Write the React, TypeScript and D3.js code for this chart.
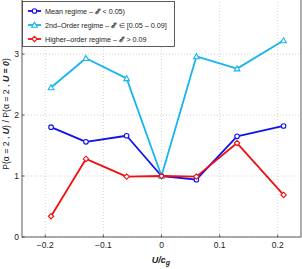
import React from "react";
import * as d3 from "d3";

const width = 302;
const height = 269;
const margin = { top: -7, right: 1, bottom: 32, left: 22 };

const speeds = [-0.19, -0.13, -0.06, 0, 0.06, 0.13, 0.21];
const meanRegime = [1.8, 1.56, 1.66, 1.0, 0.94, 1.65, 1.82];
const secondOrder = [2.45, 2.93, 2.6, 1.0, 2.96, 2.76, 3.22];
const higherOrder = [0.34, 1.28, 0.99, 1.0, 0.99, 1.54, 0.69];

const xTicks = [-0.2, -0.1, 0, 0.1, 0.2];
const yTicks = [0, 1, 2, 3];

const seriesList = [
  { name: "Mean regime – ", rest: "< 0.05)", values: meanRegime, color: "#1010f0", marker: "circle" },
  { name: "2nd–Order regime – ", rest: "∈ [0.05 – 0.09]", values: secondOrder, color: "#18b4f0", marker: "triangle" },
  { name: "Higher–order regime – ", rest: "> 0.09", values: higherOrder, color: "#f01010", marker: "diamond" },
];

const font = "Liberation Sans, Arial, sans-serif";

function Marker({ type, x, y, color }: { type: string; x: number; y: number; color: string }) {
  if (type === "circle") {
    return <circle cx={x} cy={y} r={2.3} fill="white" stroke={color} strokeWidth={1.1} />;
  }
  if (type === "triangle") {
    const s = 2.8;
    return (
      <path
        d={`M${x},${y - s} L${x + s},${y + s * 0.8} L${x - s},${y + s * 0.8} Z`}
        fill="white"
        stroke={color}
        strokeWidth={1.1}
      />
    );
  }
  const s = 2.7;
  return (
    <path
      d={`M${x},${y - s} L${x + s},${y} L${x},${y + s} L${x - s},${y} Z`}
      fill="white"
      stroke={color}
      strokeWidth={1.1}
    />
  );
}

export default function App() {
  const x = d3.scaleLinear().domain([-0.24, 0.24]).range([margin.left, width - margin.right]);
  const y = d3.scaleLinear().domain([0, 4]).range([height - margin.bottom, margin.top]);
  const line = d3
    .line<number>()
    .x((_, i) => x(speeds[i]))
    .y((d) => y(d));

  const x0 = margin.left;
  const x1 = width - margin.right;
  const y0 = height - margin.bottom;
  const y1 = margin.top;

  return (
    <svg
      width={width}
      height={height}
      style={{ position: "absolute", left: 0, top: 0, background: "white" }}
      fontFamily={font}
    >
      {/* grid */}
      {xTicks.map((t) => (
        <line key={"gx" + t} x1={x(t)} x2={x(t)} y1={y0} y2={y1} stroke="#c8c8c8" strokeWidth={0.8} strokeDasharray="1,2" />
      ))}
      {yTicks.map((t) => (
        <line key={"gy" + t} x1={x0} x2={x1} y1={y(t)} y2={y(t)} stroke="#c8c8c8" strokeWidth={0.8} strokeDasharray="1,2" />
      ))}

      {/* frame */}
      <rect x={x0} y={y1} width={x1 - x0} height={y0 - y1} fill="none" stroke="#333" strokeWidth={0.8} />

      {/* ticks */}
      {xTicks.map((t) => (
        <g key={"tx" + t}>
          <line x1={x(t)} x2={x(t)} y1={y0} y2={y0 - 2.5} stroke="#333" strokeWidth={0.8} />
          <text x={x(t)} y={y0 + 11} fontSize={8.5} textAnchor="middle" fill="#222">
            {t === 0 ? "0" : (t < 0 ? "−" : "") + Math.abs(t).toString()}
          </text>
        </g>
      ))}
      {yTicks.map((t) => (
        <g key={"ty" + t}>
          <line x1={x0} x2={x0 + 2.5} y1={y(t)} y2={y(t)} stroke="#333" strokeWidth={0.8} />
          <text x={x0 - 3} y={y(t) + 3} fontSize={8.5} textAnchor="end" fill="#222">
            {t}
          </text>
        </g>
      ))}

      {/* series */}
      {seriesList.map((s) => (
        <g key={s.name}>
          <path d={line(s.values) || ""} fill="none" stroke={s.color} strokeWidth={1.8} strokeLinejoin="round" />
          {s.values.map((v, i) => (
            <Marker key={i} type={s.marker} x={x(speeds[i])} y={y(v)} color={s.color} />
          ))}
        </g>
      ))}

      {/* legend */}
      <rect x={22.5} y={1.5} width={152} height={45} fill="white" stroke="#333" strokeWidth={0.8} />
      {seriesList.map((s, i) => {
        const ly = 11 + i * 14;
        return (
          <g key={"lg" + s.name}>
            <line x1={28} x2={41} y1={ly} y2={ly} stroke={s.color} strokeWidth={1.8} />
            <Marker type={s.marker} x={34.5} y={ly} color={s.color} />
            <text x={45} y={ly + 2.5} fontSize={7.2} fill="#222" style={{ whiteSpace: "pre" }}>
              {s.name}
              <tspan fontWeight="bold" fontStyle="italic" fontFamily="DejaVu Serif, serif">ℰ</tspan>
              <tspan dx={3.5}>{s.rest}</tspan>
            </text>
          </g>
        );
      })}

      {/* axis labels */}
      <text x={161} y={263} fontSize={9} textAnchor="middle" fontWeight="bold" fontStyle="italic" fill="#222">
        U/c<tspan fontSize={7} dy={2}>g</tspan>
      </text>
      <text transform={`translate(9, ${114}) rotate(-90)`} fontSize={8.7} textAnchor="middle" fill="#222">
        P(α = 2 , <tspan fontWeight="bold" fontStyle="italic">U</tspan>) / P(α = 2 ,{" "}
        <tspan fontWeight="bold" fontStyle="italic">U = 0</tspan>)
      </text>
    </svg>
  );
}
